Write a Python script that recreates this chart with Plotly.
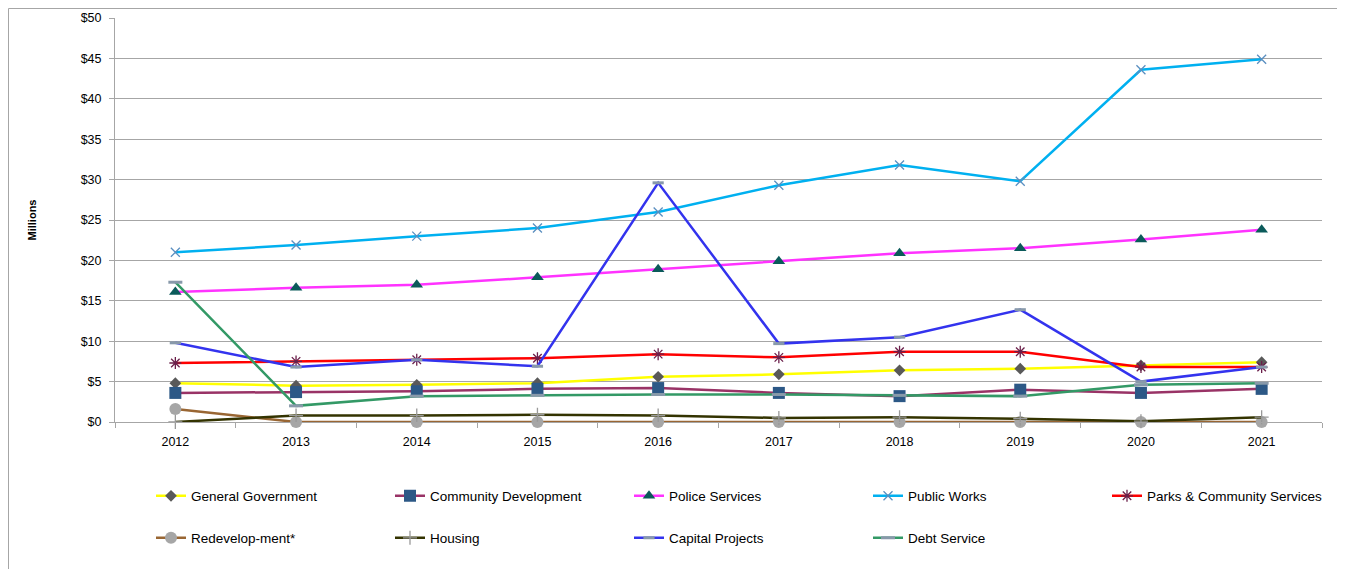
import plotly.graph_objects as go

years = ["2012", "2013", "2014", "2015", "2016", "2017", "2018", "2019", "2020", "2021"]

general_government = [4.8, 4.5, 4.6, 4.8, 5.6, 5.9, 6.4, 6.6, 7.0, 7.4]
community_development = [3.6, 3.7, 3.8, 4.1, 4.2, 3.6, 3.2, 4.0, 3.6, 4.1]
police_services = [16.1, 16.6, 17.0, 17.9, 18.9, 19.9, 20.9, 21.5, 22.6, 23.8]
public_works = [21.0, 21.9, 23.0, 24.0, 26.0, 29.3, 31.8, 29.8, 43.6, 44.9]
parks_community = [7.3, 7.5, 7.7, 7.9, 8.4, 8.0, 8.7, 8.7, 6.8, 6.8]
redevelopment = [1.6, 0, 0, 0, 0, 0, 0, 0, 0, 0]
housing = [0.0, 0.8, 0.8, 0.9, 0.8, 0.5, 0.6, 0.4, 0.1, 0.6]
capital_projects = [9.8, 6.8, 7.7, 6.9, 29.6, 9.7, 10.5, 13.9, 5.0, 6.8]
debt_service = [17.3, 2.0, 3.2, 3.3, 3.4, 3.4, 3.3, 3.2, 4.6, 4.8]

tick_vals = [0, 5, 10, 15, 20, 25, 30, 35, 40, 45, 50]
tick_text = ["$0", "$5", "$10", "$15", "$20", "$25", "$30", "$35", "$40", "$45", "$50"]

series = [
    ("General Government", general_government, "#ffff00", dict(symbol="diamond", size=9, color="#595959"), "legend"),
    ("Community Development", community_development, "#993366", dict(symbol="square", size=12, color="#2c5886"), "legend"),
    ("Police Services", police_services, "#ff33ff", dict(symbol="triangle-up", size=11, color="#0b5a5a"), "legend"),
    ("Public Works", public_works, "#00b0f0", dict(symbol="x-thin-open", size=9, color="#5b8fc0", line=dict(width=1.3, color="#5b8fc0")), "legend"),
    ("Parks & Community Services", parks_community, "#ff0000", dict(symbol="asterisk-open", size=10, color="#6b1f4a", line=dict(width=1.3, color="#6b1f4a")), "legend"),
    ("Redevelop-ment*", redevelopment, "#996633", dict(symbol="circle", size=12, color="#a6a6a6"), "legend2"),
    ("Housing", housing, "#333300", dict(symbol="cross-thin-open", size=10, color="#999999", line=dict(width=1.3, color="#999999")), "legend2"),
    ("Capital Projects", capital_projects, "#3333ee", dict(symbol="line-ew-open", size=8, color="#8899aa", line=dict(width=3, color="#8899aa")), "legend2"),
    ("Debt Service", debt_service, "#339966", dict(symbol="line-ew-open", size=10, color="#8899aa", line=dict(width=3, color="#8899aa")), "legend2"),
]

fig = go.Figure()
for name, vals, lc, mk, lg in series:
    fig.add_trace(go.Scatter(
        x=years, y=vals, name=name, mode="lines+markers",
        line=dict(color=lc, width=2.5), marker=mk, legend=lg,
        cliponaxis=False,
    ))

# page has an 8px body margin; figure coordinates = screen - 8
OFF = 8
W, H = 1345 - OFF, 569 - OFF
L, R, T, B = 115 - OFF, W - (1322 - OFF), 18 - OFF, H - (422 - OFF)
pw = W - L - R
ph = H - T - B

def px_x(x):  # screen x -> paper
    return (x - OFF - L) / pw

def px_y(y):  # screen y -> paper
    return (H - B - (y - OFF)) / ph

legend_common = dict(
    orientation="h", xanchor="left", yanchor="middle",
    entrywidth=194, entrywidthmode="pixels",
    font=dict(size=13.5), bgcolor="rgba(0,0,0,0)", traceorder="normal",
)

fig.update_layout(
    width=W, height=H,
    margin=dict(l=L, r=R, t=T, b=B, autoexpand=False),
    paper_bgcolor="white", plot_bgcolor="white",
    font=dict(family="Liberation Sans, Arial, sans-serif", size=12, color="#000000"),
    xaxis=dict(
        type="category", range=[-0.5, 9.5], showgrid=False,
        showline=True, linecolor="#a6a6a6", linewidth=1,
        ticks="outside", tickson="boundaries", ticklen=5, tickcolor="#a6a6a6",
        ticklabelstandoff=8,
        tickfont=dict(size=12.5, color="#000000"),
    ),
    yaxis=dict(
        range=[0, 50], tickvals=tick_vals, ticktext=tick_text,
        showgrid=True, gridcolor="#a6a6a6", gridwidth=1,
        showline=True, linecolor="#a6a6a6", linewidth=1,
        ticks="outside", ticklen=5, tickcolor="#a6a6a6",
        ticklabelstandoff=5,
        zeroline=False,
        tickfont=dict(size=12.5, color="#000000"),
        title=dict(text="<b>Millions</b>", font=dict(size=11), standoff=41),
    ),
    legend=dict(x=px_x(151), y=px_y(496), **legend_common),
    legend2=dict(x=px_x(151), y=px_y(538), **legend_common),
    showlegend=True,
    shapes=[dict(
        type="rect", xref="paper", yref="paper",
        x0=px_x(8.5), x1=px_x(1338), y0=px_y(575), y1=px_y(8.5),
        line=dict(color="#a6a6a6", width=1), fillcolor="rgba(0,0,0,0)", layer="below",
    )],
)

fig.write_html("out.html")
